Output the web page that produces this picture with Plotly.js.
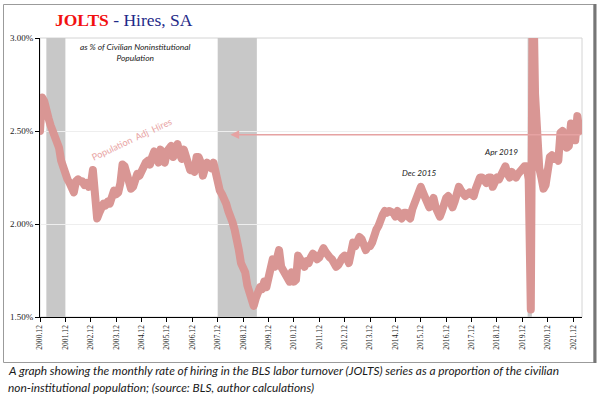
<!DOCTYPE html>
<html>
<head>
<meta charset="utf-8">
<script src="https://cdn.plot.ly/plotly-3.0.1.min.js"></script>
<style>
  html, body { margin: 0; padding: 0; background: #fff; }
  #chart { width: 600px; height: 409px; }
  .js-line { stroke-linejoin: round; stroke-linecap: round; }
</style>
</head>
<body>
<div id="chart"></div>
<script>
// JOLTS hires as % of civilian noninstitutional population, monthly, SA.
// Series starts Dec 2000; one array per calendar year.
const rateDec2000 = [2.50];
const rate2001 = [2.68, 2.66, 2.59, 2.57, 2.53, 2.50, 2.48, 2.43, 2.41, 2.34, 2.30, 2.25];
const rate2002 = [2.24, 2.22, 2.18, 2.17, 2.23, 2.24, 2.23, 2.23, 2.21, 2.22, 2.20, 2.21];
const rate2003 = [2.29, 2.17, 2.03, 2.06, 2.09, 2.11, 2.10, 2.12, 2.11, 2.15, 2.18, 2.16];
const rate2004 = [2.17, 2.22, 2.32, 2.31, 2.26, 2.24, 2.19, 2.20, 2.24, 2.27, 2.26, 2.29];
const rate2005 = [2.30, 2.33, 2.34, 2.32, 2.36, 2.39, 2.36, 2.33, 2.40, 2.36, 2.33, 2.39];
const rate2006 = [2.41, 2.42, 2.36, 2.41, 2.43, 2.38, 2.35, 2.40, 2.36, 2.35, 2.29, 2.31];
const rate2007 = [2.28, 2.36, 2.36, 2.33, 2.26, 2.30, 2.33, 2.31, 2.30, 2.33, 2.26, 2.22];
const rate2008 = [2.18, 2.16, 2.14, 2.11, 2.07, 2.05, 2.01, 1.97, 1.93, 1.86, 1.79, 1.76];
const rate2009 = [1.74, 1.67, 1.63, 1.61, 1.56, 1.60, 1.64, 1.66, 1.65, 1.69, 1.66, 1.70];
const rate2010 = [1.74, 1.81, 1.77, 1.82, 1.86, 1.77, 1.75, 1.73, 1.70, 1.69, 1.74, 1.69];
const rate2011 = [1.70, 1.83, 1.81, 1.79, 1.77, 1.80, 1.79, 1.82, 1.84, 1.83, 1.81, 1.82];
const rate2012 = [1.84, 1.87, 1.85, 1.82, 1.82, 1.81, 1.79, 1.77, 1.78, 1.81, 1.82, 1.83];
const rate2013 = [1.82, 1.79, 1.84, 1.90, 1.88, 1.90, 1.93, 1.92, 1.89, 1.86, 1.88, 1.88];
const rate2014 = [1.90, 1.95, 1.97, 1.99, 2.03, 2.05, 2.07, 2.06, 2.07, 2.07, 2.06, 2.04];
const rate2015 = [2.07, 2.04, 2.03, 2.06, 2.06, 2.04, 2.03, 2.08, 2.11, 2.13, 2.16, 2.20];
const rate2016 = [2.17, 2.14, 2.13, 2.09, 2.11, 2.14, 2.09, 2.06, 2.04, 2.07, 2.11, 2.14];
const rate2017 = [2.15, 2.11, 2.09, 2.12, 2.15, 2.20, 2.18, 2.15, 2.15, 2.16, 2.17, 2.16];
const rate2018 = [2.15, 2.19, 2.23, 2.25, 2.25, 2.24, 2.22, 2.25, 2.25, 2.20, 2.22, 2.25];
const rate2019 = [2.24, 2.26, 2.28, 2.31, 2.27, 2.25, 2.28, 2.27, 2.25, 2.27, 2.29, 2.30];
const rate2020 = [2.31, 2.31, 2.24, 1.54, 3.40, 2.70, 2.33, 2.30, 2.25, 2.19, 2.21, 2.33];
const rate2021 = [2.36, 2.37, 2.35, 2.36, 2.34, 2.49, 2.50, 2.45, 2.41, 2.42, 2.54, 2.52];
const rate2022 = [2.45, 2.58, 2.50];

// Axis labels: every December, as months since Dec 2000
const tickLabels = ['2000.12','2001.12','2002.12','2003.12','2004.12','2005.12','2006.12',
  '2007.12','2008.12','2009.12','2010.12','2011.12','2012.12','2013.12','2014.12',
  '2015.12','2016.12','2017.12','2018.12','2019.12','2020.12','2021.12'];
const tickMonths = [0,12,24,36,48,60,72,84,96,108,120,132,144,156,168,180,192,204,216,228,240,252];
const yTickValues = [1.5, 2.0, 2.5, 3.0];
const yTickLabels = ['1.50%', '2.00%', '2.50%', '3.00%'];

// NBER recessions (months since Dec 2000)
const recessionStart = [3, 84, 230.5];
const recessionEnd   = [12, 102.5, 232.5];

// Labelled months and reference level of the latest reading
const noteLabels = ['Dec 2015', 'Apr 2019'];
const noteMonths = [180, 220];
const latestLevel = 2.48;
const arrowFromMonth = 256.2;
const arrowToMonth = 90;

const hires = [].concat(rateDec2000, rate2001, rate2002, rate2003, rate2004, rate2005,
  rate2006, rate2007, rate2008, rate2009, rate2010, rate2011, rate2012, rate2013,
  rate2014, rate2015, rate2016, rate2017, rate2018, rate2019, rate2020, rate2021, rate2022);
const monthIdx = hires.map((_, i) => i);

// Page geometry (pixels)
const W = 600, H = 409;
const M = { l: 40, r: 18, t: 38, b: 92 };
const PW = W - M.l - M.r, PH = H - M.t - M.b;
const px = v => (v - M.l) / PW;            // pixel x -> paper x
const py = v => (H - M.b - v) / PH;        // pixel y -> paper y

const lineColor = 'rgb(217,150,148)';
const shapes = [];

// outer frame
shapes.push({ type: 'rect', xref: 'paper', yref: 'paper', x0: px(3.5), x1: px(594), y0: py(362.5), y1: py(4.5),
  line: { color: '#9b9b9b', width: 1 }, layer: 'below' });
shapes.push({ type: 'line', xref: 'paper', yref: 'paper', x0: px(595), x1: px(595), y0: py(363), y1: py(4),
  line: { color: '#767676', width: 3 }, layer: 'below' });
// plot-area border
shapes.push({ type: 'rect', xref: 'paper', yref: 'paper', x0: 0, x1: 1, y0: 0, y1: 1,
  line: { color: '#d4d4d4', width: 1 }, layer: 'below' });
// recession shading
recessionStart.forEach((s, i) => {
  shapes.push({ type: 'rect', xref: 'x', yref: 'paper', x0: s, x1: recessionEnd[i], y0: 0, y1: 1,
    fillcolor: 'rgb(200,200,200)', line: { width: 0 }, layer: 'below' });
});

const italic = { family: 'Lato, "Open Sans", sans-serif', color: '#1a1a1a' };
const annotations = [
  { xref: 'paper', yref: 'paper', x: px(135), y: py(52), xanchor: 'center', yanchor: 'middle',
    text: '<i>as % of Civilian Noninstitutional<br>Population</i>', showarrow: false, align: 'center',
    font: Object.assign({ size: 8.4 }, italic) },
  { xref: 'paper', yref: 'paper', x: px(131), y: py(139), xanchor: 'center', yanchor: 'middle',
    text: 'Population  Adj  Hires', textangle: -25, showarrow: false,
    font: { family: 'Lato, sans-serif', size: 9.2, color: '#e8a3a3' } },
  { xref: 'x', yref: 'y', x: arrowToMonth, y: latestLevel, ax: arrowFromMonth, ay: latestLevel,
    axref: 'x', ayref: 'y', text: '', showarrow: true, arrowhead: 2, arrowsize: 1.1, arrowwidth: 1.6,
    arrowcolor: '#e6a2a2', standoff: 0, startstandoff: 0 },
  // caption
  { xref: 'paper', yref: 'paper', x: px(6), y: py(370.5), xanchor: 'left', yanchor: 'middle', showarrow: false,
    text: '<i>A graph showing the monthly rate of hiring in the BLS labor turnover (JOLTS) series as a proportion of the civilian</i>',
    font: Object.assign({ size: 11.9 }, italic) },
  { xref: 'paper', yref: 'paper', x: px(6), y: py(387.5), xanchor: 'left', yanchor: 'middle', showarrow: false,
    text: '<i>non-institutional population; (source: BLS, author calculations)</i>',
    font: Object.assign({ size: 11.9 }, italic) }
];
noteMonths.forEach((m, i) => {
  annotations.push({ xref: 'x', yref: 'y', x: m, y: hires[m], text: '<i>' + noteLabels[i] + '</i>',
    showarrow: false, yshift: 14, xshift: i === 0 ? -1 : -4, xanchor: 'center', yanchor: 'middle',
    font: Object.assign({ size: 8.2 }, italic) });
});

const trace = {
  type: 'scatter', mode: 'lines', x: monthIdx, y: hires,
  line: { color: lineColor, width: 8 }, hoverinfo: 'skip'
};

const layout = {
  width: W, height: H,
  margin: M,
  paper_bgcolor: '#ffffff', plot_bgcolor: 'rgba(0,0,0,0)',
  showlegend: false,
  title: {
    text: '<b><span style="color:#f21010">JOLTS</span></b> - Hires, SA',
    xref: 'container', yref: 'container', x: 55 / W, xanchor: 'left', y: 1 - 20 / H, yanchor: 'middle',
    font: { family: '"Liberation Serif", serif', size: 17.5, color: '#1f2b88' }
  },
  xaxis: {
    type: 'linear', range: [0, 256.2], tickvals: tickMonths, ticktext: tickLabels,
    tickangle: -90, ticks: 'outside', ticklen: 4, tickcolor: '#000', showgrid: false, zeroline: false,
    showline: true, linecolor: '#000', linewidth: 1,
    tickfont: { family: '"Liberation Serif", serif', size: 7.6, color: '#222' }
  },
  yaxis: {
    range: [1.5, 3.0], tickvals: yTickValues, ticktext: yTickLabels,
    ticks: 'outside', ticklen: 4, tickcolor: '#000', showline: true, linecolor: '#000', linewidth: 1,
    gridcolor: '#eeeeee', zeroline: false,
    tickfont: { family: '"Liberation Serif", serif', size: 9, color: '#222' }
  },
  shapes: shapes,
  annotations: annotations
};

Plotly.newPlot('chart', [trace], layout, { staticPlot: true, displayModeBar: false });
</script>
</body>
</html>
